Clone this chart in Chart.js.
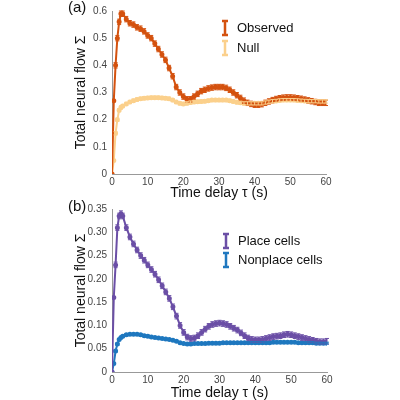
<!DOCTYPE html>
<html><head><meta charset="utf-8">
<script src="https://cdn.jsdelivr.net/npm/chart.js@4"></script>
<style>body{margin:0;background:#fff;font-family:"Liberation Sans",Arial,sans-serif}
.p{position:absolute;left:0;width:400px;height:200px}
.lab{position:absolute;font-size:15px;color:#111}</style></head>
<body>
<div class="p" style="top:0"><canvas id="a" width="400" height="200"></canvas></div>
<div class="p" style="top:200px"><canvas id="b" width="400" height="200"></canvas></div>
<div class="lab" style="left:68px;top:-2px">(a)</div>
<div class="lab" style="left:68px;top:197px">(b)</div>
<script>
const tau=[0,0.5,1,1.5,2,2.5,3,4,5,6,7,8,9,10,11,12,13,14,15,16,17,18,19,20,21,22,23,24,25,26,27,28,29,30,31,32,33,34,35,36,37,38,39,40,41,42,43,44,45,46,47,48,49,50,51,52,53,54,55,56,57,58,59,60];
const observed=[0,0.27,0.4,0.5,0.56,0.59,0.59,0.57,0.555,0.55,0.54,0.535,0.525,0.51,0.5,0.48,0.46,0.44,0.42,0.39,0.36,0.32,0.3,0.285,0.275,0.275,0.285,0.295,0.305,0.31,0.315,0.318,0.32,0.32,0.32,0.317,0.31,0.3,0.29,0.28,0.27,0.262,0.258,0.255,0.255,0.257,0.262,0.267,0.272,0.276,0.279,0.281,0.282,0.282,0.281,0.279,0.277,0.274,0.271,0.268,0.265,0.262,0.262,0.262];
const nullFlow=[0,0.05,0.15,0.2,0.235,0.245,0.25,0.258,0.265,0.27,0.274,0.277,0.279,0.28,0.281,0.281,0.281,0.28,0.279,0.277,0.272,0.265,0.26,0.258,0.26,0.263,0.265,0.266,0.267,0.268,0.27,0.272,0.272,0.272,0.272,0.272,0.27,0.267,0.264,0.262,0.26,0.26,0.26,0.26,0.26,0.26,0.263,0.266,0.268,0.269,0.271,0.272,0.272,0.272,0.272,0.271,0.27,0.269,0.268,0.268,0.268,0.267,0.267,0.267];
const place=[0,0.16,0.23,0.31,0.335,0.34,0.335,0.31,0.29,0.275,0.262,0.25,0.24,0.23,0.22,0.21,0.198,0.185,0.172,0.158,0.14,0.12,0.1,0.085,0.075,0.072,0.073,0.078,0.085,0.092,0.098,0.102,0.104,0.105,0.104,0.102,0.098,0.094,0.09,0.084,0.078,0.073,0.07,0.069,0.069,0.07,0.072,0.074,0.076,0.077,0.078,0.08,0.081,0.08,0.078,0.076,0.074,0.072,0.07,0.068,0.066,0.065,0.065,0.066];
const nonplace=[0,0.018,0.045,0.06,0.07,0.074,0.077,0.08,0.081,0.081,0.081,0.08,0.078,0.077,0.075,0.074,0.073,0.072,0.071,0.07,0.068,0.066,0.063,0.061,0.06,0.06,0.061,0.061,0.061,0.061,0.062,0.062,0.062,0.062,0.063,0.063,0.063,0.063,0.063,0.063,0.063,0.063,0.063,0.063,0.063,0.063,0.063,0.063,0.064,0.064,0.064,0.064,0.064,0.064,0.064,0.063,0.063,0.063,0.063,0.063,0.062,0.062,0.062,0.062];
const errA=[0.01,0.006], errB=[0.006,0.002];
const ticksA=[0,0.1,0.2,0.3,0.4,0.5,0.6], ticksB=[0,0.05,0.1,0.15,0.2,0.25,0.3,0.35];

const errPlugin={id:'err',afterDatasetsDraw(c){const ctx=c.ctx,x=c.scales.x,y=c.scales.y;
 c.data.datasets.forEach((ds,i)=>{const e=c.options.plugins.err.vals[i];ctx.save();ctx.strokeStyle=ds.borderColor;ctx.lineWidth=1;
 ds.data.forEach(p=>{if(p.x<1)return;const px=x.getPixelForValue(p.x),y1=y.getPixelForValue(p.y+e),y2=y.getPixelForValue(p.y-e);
 ctx.beginPath();ctx.moveTo(px,y1);ctx.lineTo(px,y2);ctx.moveTo(px-2,y1);ctx.lineTo(px+2,y1);ctx.moveTo(px-2,y2);ctx.lineTo(px+2,y2);ctx.stroke();});ctx.restore();});
 const L=c.options.plugins.err.leg;ctx.save();ctx.font='13px "Liberation Sans",Arial';ctx.textBaseline='middle';
 c.data.datasets.forEach((ds,i)=>{const lx=L.x,ly=L.y+i*L.dy;ctx.strokeStyle=ds.borderColor;ctx.lineWidth=2.5;ctx.beginPath();
 ctx.moveTo(lx,ly-7);ctx.lineTo(lx,ly+7);ctx.moveTo(lx-3,ly-7);ctx.lineTo(lx+3,ly-7);ctx.moveTo(lx-3,ly+7);ctx.lineTo(lx+3,ly+7);ctx.stroke();
 ctx.fillStyle='#111';ctx.fillText(ds.label,lx+12,ly);});ctx.restore();}};

const F='"Liberation Sans",Arial';
function mk(id,sets,max,ticks,pad,xh,err,leg){
 new Chart(document.getElementById(id),{type:'line',
 data:{datasets:sets.map(s=>({label:s[0],data:tau.map((t,i)=>({x:t,y:s[1][i]})),borderColor:s[2],backgroundColor:s[2],borderWidth:2,pointRadius:1.5,tension:0}))},
 options:{responsive:false,animation:false,layout:{padding:{top:pad[0],right:pad[1],left:74,bottom:0}},
 plugins:{legend:{display:false},tooltip:{enabled:false},err:{vals:err,leg:leg}},
 scales:{x:{type:'linear',min:0,max:60,afterFit:s=>{s.height=xh},grid:{display:false,drawTicks:true,tickLength:2},border:{color:'#999'},
  ticks:{stepSize:10,color:'#444',font:{size:10,family:F,lineHeight:1},padding:1},
  title:{display:true,text:'Time delay τ (s)',color:'#111',font:{size:14,family:F,lineHeight:1},padding:{top:1,bottom:0}}},
  y:{min:0,max:max,afterFit:s=>{s.width=38},afterBuildTicks:s=>{s.ticks=ticks.map(v=>({value:v}))},grid:{display:false,tickLength:3},border:{color:'#999'},
  ticks:{color:'#444',font:{size:10,family:F},padding:2},
  title:{display:true,text:'Total neural flow Σ',color:'#111',font:{size:14,family:F,lineHeight:1},padding:0}}}},
 plugins:[errPlugin]});}
mk('a',[['Observed',observed,'#D4520F'],['Null',nullFlow,'#FBD08C']],0.6,ticksA,[11,74],26,errA,{x:225,y:28,dy:20});
mk('b',[['Place cells',place,'#6B4FA6'],['Nonplace cells',nonplace,'#1F78BF']],0.35,ticksB,[9,73],28,errB,{x:226,y:41,dy:19});
</script></body></html>
